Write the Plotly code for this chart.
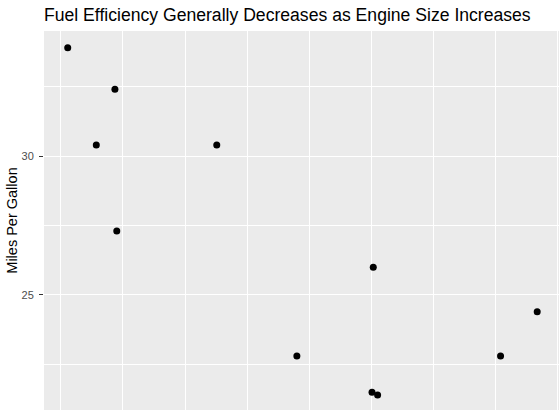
import plotly.graph_objects as go

# mtcars subset: engine displacement (cu. in.) vs miles per gallon
displacement = [71.1, 75.7, 78.7, 79.0, 95.1, 108.0, 120.3, 120.1, 121.0, 140.8, 146.7]
mpg = [33.9, 30.4, 32.4, 27.3, 30.4, 22.8, 26.0, 21.5, 21.4, 22.8, 24.4]

font_family = "Liberation Sans, Arial, Helvetica, sans-serif"

fig = go.Figure()
fig.add_trace(go.Scatter(
    x=displacement,
    y=mpg,
    mode="markers",
    marker=dict(color="black", size=7),
    hoverinfo="x+y",
    showlegend=False,
))

fig.update_layout(
    width=559,
    height=410,
    margin=dict(l=44, r=0, t=31, b=0),
    paper_bgcolor="white",
    plot_bgcolor="#EBEBEB",
    font=dict(family=font_family, color="black"),
    title=dict(
        text="Fuel Efficiency Generally Decreases as Engine Size Increases",
        x=44 / 559, xref="container", xanchor="left",
        y=1 - 14.5 / 410, yref="container", yanchor="middle",
        font=dict(size=17.6, color="black"),
    ),
)

fig.update_xaxes(
    range=[67.28, 150.21],
    tick0=70, dtick=20,
    showticklabels=False,
    ticks="",
    showgrid=True, gridcolor="white", gridwidth=1.1,
    minor=dict(tick0=70, dtick=10, showgrid=True, gridcolor="white", gridwidth=0.5),
    zeroline=False,
    showline=False,
    automargin=False,
)

fig.update_yaxes(
    range=[20.86, 34.50],
    tick0=0, dtick=5,
    ticks="outside", ticklen=4, tickwidth=1, tickcolor="#333333",
    tickfont=dict(size=11, color="#4D4D4D"),
    ticklabelstandoff=3,
    showgrid=True, gridcolor="white", gridwidth=1.1,
    minor=dict(tick0=0, dtick=2.5, showgrid=True, gridcolor="white", gridwidth=0.5),
    zeroline=False,
    showline=False,
    automargin=False,
    title=dict(text="Miles Per Gallon", font=dict(size=14.5, color="black"), standoff=0),
)

# drop the browser's default 8px body margin so the figure sits at the window corner
fig.write_html("out.html", config={"displayModeBar": False},
               post_script="document.body.style.margin='0';")
